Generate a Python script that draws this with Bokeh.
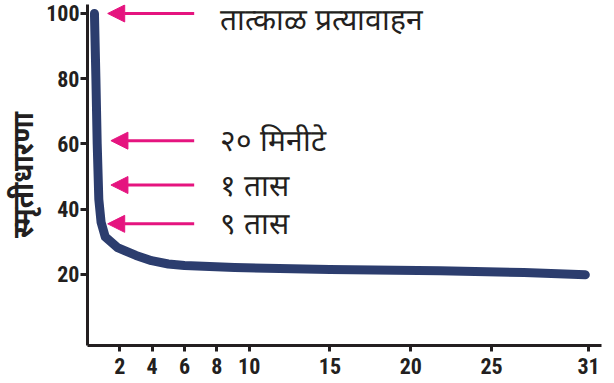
from bokeh.plotting import figure
from bokeh.models import FixedTicker, Range1d, Arrow, NormalHead, ColumnDataSource, LabelSet
from bokeh.embed import file_html
from bokeh.resources import INLINE

# retention curve (days vs % retention)
curve_x = [0.43, 0.52, 0.6, 0.7, 0.84, 1.1, 1.86, 3.0, 3.96, 5.0, 6.0, 9.1, 15.0, 21.8, 27.0, 30.8]
curve_y = [100, 80, 60, 43, 36, 31.5, 28.2, 25.8, 24.2, 23.2, 22.7, 22.1, 21.5, 21.1, 20.6, 19.9]

x_ticks = [2, 4, 6, 8, 10, 15, 20, 25, 31]
y_ticks = [20, 40, 60, 80, 100]

labels = ["तात्काळ प्रत्यावाहन", "२० मिनीटे", "१ तास", "९ तास"]
label_y = [100, 61, 47.4, 35.5]
arrow_tip_x = [1.25, 1.45, 1.45, 1.25]
arrow_tail_x = [6.6, 6.6, 6.6, 6.6]
label_x = [8.2, 8.2, 8.2, 8.2]

y_title = "स्मृतीधारणा"

p = figure(width=612, height=381, output_backend="svg", toolbar_location=None,
           x_range=Range1d(0, 31.8), y_range=Range1d(-1.8, 102.75),
           min_border_left=87, min_border_right=11, min_border_top=4, min_border_bottom=36)
p.grid.visible = False
p.outline_line_color = None

p.line(curve_x, curve_y, line_width=9, line_color="#2c3d6e", line_cap="round", line_join="round")

label_dy = [-6, 0, 0, 0]
asrc = ColumnDataSource(dict(x0=arrow_tail_x, x1=arrow_tip_x, y=label_y, x=label_x, t=labels, dy=label_dy))
p.add_layout(Arrow(source=asrc, x_start="x0", y_start="y", x_end="x1", y_end="y",
                   line_color="#e5147f", line_width=3,
                   end=NormalHead(size=17, fill_color="#e5147f", line_color="#e5147f")))

p.add_layout(LabelSet(source=asrc, x="x", y="y", text="t", y_offset="dy", text_baseline="middle",
                      text_align="left", text_font="Noto Sans", text_font_size="30px",
                      text_color="#231f20"))

tick_font = "'Roboto Condensed', 'Arial Narrow', Roboto, 'Liberation Sans'"
for ax in (p.xaxis[0], p.yaxis[0]):
    ax.axis_line_width = 3
    ax.axis_line_color = "#231f20"
    ax.major_tick_line_width = 3
    ax.major_tick_line_color = "#231f20"
    ax.minor_tick_line_color = None
    ax.major_tick_in = 0
    ax.major_tick_out = 7
    ax.major_label_text_font = tick_font
    ax.major_label_text_font_style = "bold"
    ax.major_label_text_font_size = "22px"
    ax.major_label_text_color = "#231f20"

p.xaxis.ticker = FixedTicker(ticks=x_ticks)
p.yaxis.ticker = FixedTicker(ticks=y_ticks)
p.xaxis.major_tick_out = 6
p.yaxis.major_label_standoff = 1
p.xaxis.major_label_standoff = 6
p.yaxis.axis_label = y_title
p.yaxis.axis_label_text_font = "Noto Sans"
p.yaxis.axis_label_text_font_style = "bold"
p.yaxis.axis_label_text_font_size = "28px"
p.yaxis.axis_label_text_color = "#231f20"
p.yaxis.axis_label_standoff = 2

open("out.html", "w").write(file_html(p, INLINE))
